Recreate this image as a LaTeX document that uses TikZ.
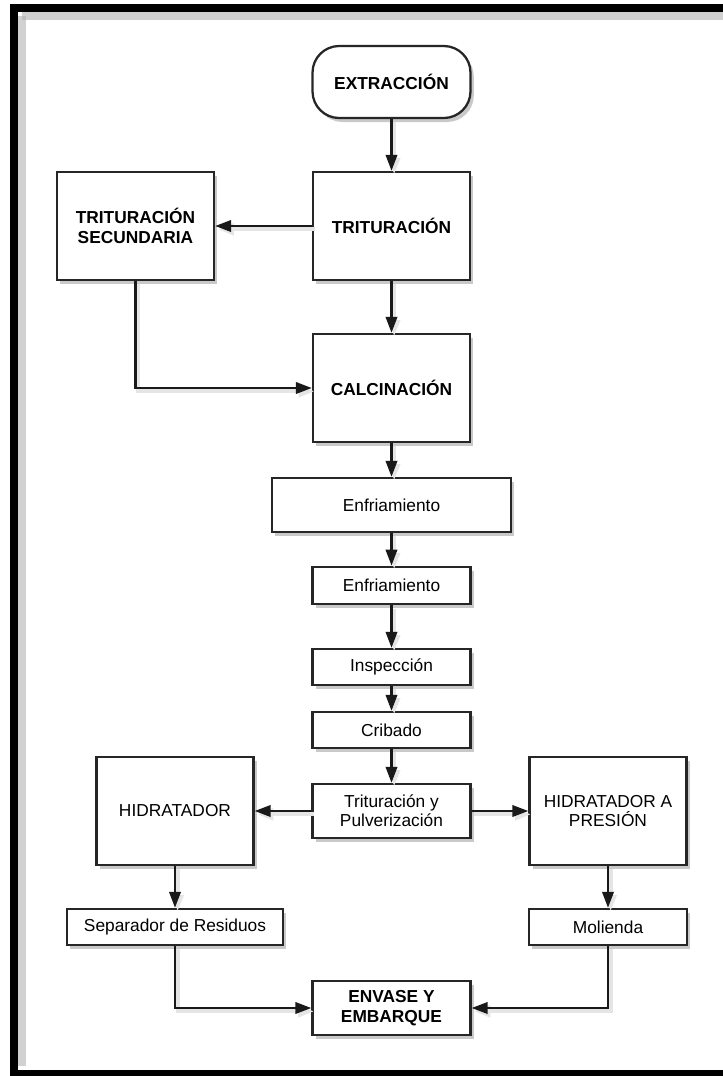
\documentclass[tikz,border=0pt]{standalone}
\usepackage{fontspec}
\setmainfont{Liberation Sans}
\usetikzlibrary{arrows.meta,shadows}

\begin{document}
\begin{tikzpicture}[x=0.75pt,y=-0.75pt,
  box/.style={draw=black!85,line width=1.7pt,fill=white,align=center,inner sep=0pt,
    font=\fontsize{13}{14.5}\selectfont,
    drop shadow={shadow xshift=2.5pt,shadow yshift=-3pt,opacity=0.3,fill=black!70}},
  bigbox/.style={box,minimum width=117.75pt,minimum height=81pt},
  smallbox/.style={box,minimum width=118.5pt,minimum height=27pt},
  midbox/.style={box,minimum width=118.5pt,minimum height=40.5pt},
  bold/.style={font=\fontsize{13}{14.5}\selectfont\bfseries},
  flow/.style={-{Triangle[length=12pt,width=8.5pt]},draw=black!90,line width=1.9pt,
    preaction={draw=black!10,line width=3pt,transform canvas={shift={(2pt,-2.5pt)}}}},
  frame/.style={draw=black,line width=6pt},
]
\useasboundingbox (0,0) rectangle (723,1076);

\draw[black!30,line width=6pt,opacity=0.6] (22,16) -- (740,16);
\draw[black!30,line width=6pt,opacity=0.6] (22,16) -- (22,1066);
\draw[frame] (14,7.5) rectangle (740,1074);

\node[box,bold,rounded corners=20pt,minimum width=118.5pt,minimum height=54pt] (extr) at (391.5,82) {EXTRACCIÓN};
\node[bigbox,bold] (trit) at (391.5,226) {TRITURACIÓN};
\node[bigbox,bold] (sec) at (135.5,226) {TRITURACIÓN\\SECUNDARIA};
\node[bigbox,bold] (calc) at (391.5,388) {CALCINACIÓN};
\node[box,minimum width=179.25pt,minimum height=40.5pt] (enf1) at (391.5,505) {Enfriamiento};
\node[box,minimum width=118.5pt,minimum height=28pt] (enf2) at (391.5,585.5) {Enfriamiento};
\node[smallbox] (insp) at (391.5,667) {Inspección};
\node[smallbox] (crib) at (391.5,730) {Cribado};
\node[midbox] (typ) at (391.5,811) {Trituración y\\Pulverización};
\node[bigbox] (hidr) at (175,811) {HIDRATADOR};
\node[bigbox] (hap) at (608,811) {HIDRATADOR A\\PRESIÓN};
\node[box,minimum width=162pt,minimum height=27pt] (sep) at (175,927) {Separador de Residuos};
\node[smallbox] (mol) at (608,927) {Molienda};
\node[midbox,bold] (env) at (391.5,1008) {ENVASE Y\\EMBARQUE};

\draw[flow] (extr) -- (trit);
\draw[flow] (trit) -- (sec);
\draw[flow] (trit) -- (calc);
\draw[flow] (sec.south) |- (calc.west);
\foreach \a/\b in {calc/enf1,enf1/enf2,enf2/insp,insp/crib,crib/typ}
  \draw[flow] (\a) -- (\b);
\draw[flow] (typ) -- (hidr);
\draw[flow] (typ) -- (hap);
\draw[flow] (hidr) -- (sep);
\draw[flow] (hap) -- (mol);
\draw[flow] (sep.south) |- (env.west);
\draw[flow] (mol.south) |- (env.east);

\end{tikzpicture}
\end{document}
